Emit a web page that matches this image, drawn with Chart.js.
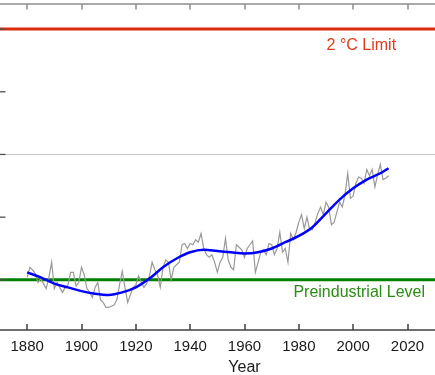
<!DOCTYPE html>
<html><head><meta charset="utf-8">
<style>
html,body{margin:0;padding:0;overflow:hidden;background:#fff;width:435px;height:375px;}
#wrap{position:absolute;left:0;top:0;width:490px;height:375px;}
</style>
<script src="https://cdn.jsdelivr.net/npm/chart.js@4/dist/chart.umd.min.js"></script>
</head><body>
<div id="wrap"><canvas id="c" width="490" height="375"></canvas></div>
<script>
// ---- data (°C relative to preindustrial level) ----
const firstYear = 1880;
const annualAnomaly = [
 0.02,0.10,0.08,0.05,-0.02,0.01,-0.03,-0.07,0.02,0.14,
 -0.07,-0.02,-0.06,-0.10,-0.06,-0.04,0.06,0.06,-0.05,-0.02,
 0.10,0.04,-0.07,-0.10,-0.14,-0.06,-0.02,-0.16,-0.18,-0.22,
 -0.22,-0.21,-0.20,-0.16,-0.04,0.07,-0.06,-0.18,-0.12,-0.06,
 -0.04,0.03,-0.02,-0.06,-0.03,0.03,0.14,0.08,0.04,-0.06,
 0.10,0.16,0.14,0.00,0.10,0.12,0.14,0.28,0.29,0.25,
 0.29,0.28,0.32,0.30,0.37,0.25,0.20,0.18,0.20,0.14,
 0.06,0.14,0.18,0.33,0.16,0.10,0.08,0.28,0.26,0.24,
 0.18,0.25,0.28,0.31,0.06,0.14,0.22,0.24,0.20,0.29,
 0.28,0.20,0.25,0.38,0.22,0.25,0.14,0.37,0.32,0.38,
 0.46,0.52,0.41,0.50,0.40,0.40,0.46,0.53,0.58,0.52,
 0.62,0.58,0.44,0.46,0.54,0.62,0.58,0.68,0.85,0.65,
 0.67,0.77,0.82,0.81,0.77,0.88,0.83,0.88,0.74,0.84,
 0.92,0.80,0.81,0.83
];
const smoothYears  = [1880,1885,1890,1895,1900,1905,1910,1915,1920,1925,1930,1935,1940,1945,1950,1955,1960,1965,1970,1975,1980,1985,1990,1995,2000,2005,2010,2013];
const smoothValues = [0.06,0.02,-0.03,-0.06,-0.09,-0.11,-0.12,-0.10,-0.06,0.01,0.10,0.17,0.22,0.24,0.23,0.22,0.21,0.22,0.25,0.30,0.35,0.42,0.53,0.64,0.73,0.80,0.85,0.89];
const xTicks = [1880,1900,1920,1940,1960,1980,2000,2020];
const yTicks = [0,0.5,1,1.5,2];
const limitLevel = 2;
const preindustrialLevel = 0;
const referenceGrid = 1;
const xMin = 1870, xMax = 2050, yMin = -0.4, yMax = 2.2;
const limitLabel = '2 °C Limit';
const preLabel = 'Preindustrial Level';
const xTitle = 'Year';

const FONT = '"Liberation Sans", Arial, sans-serif';
const annualPts = annualAnomaly.map((v,i)=>({x:firstYear+i,y:v}));
const smoothPts = smoothYears.map((yr,i)=>({x:yr,y:smoothValues[i]}));
const hline = v => [{x:xMin,y:v},{x:xMax,y:v}];

const framePlugin = {
  id:'frame',
  beforeDatasetsDraw(chart){
    const {ctx, chartArea:ca, scales:{y}} = chart;
    ctx.save();
    ctx.strokeStyle = '#c4c4c4'; ctx.lineWidth = 1;
    const gy = Math.round(y.getPixelForValue(referenceGrid)) + 0.5;
    ctx.beginPath(); ctx.moveTo(ca.left, gy); ctx.lineTo(ca.right, gy); ctx.stroke();
    ctx.restore();
  },
  afterDatasetsDraw(chart){
    const {ctx, chartArea:ca, scales:{x,y}} = chart;
    ctx.save();
    ctx.strokeStyle = '#8c8c8c'; ctx.lineWidth = 1.5;
    ctx.beginPath(); ctx.moveTo(ca.left, ca.top); ctx.lineTo(ca.right, ca.top); ctx.stroke();
    xTicks.forEach(t=>{ const px=Math.round(x.getPixelForValue(t));
      ctx.beginPath(); ctx.moveTo(px, ca.top); ctx.lineTo(px, ca.top+5.5); ctx.stroke(); });
    ctx.strokeStyle = '#404040'; ctx.lineWidth = 1.5;
    ctx.beginPath(); ctx.moveTo(ca.left, ca.bottom); ctx.lineTo(ca.right, ca.bottom); ctx.stroke();
    xTicks.forEach(t=>{ const px=Math.round(x.getPixelForValue(t));
      ctx.beginPath(); ctx.moveTo(px, ca.bottom); ctx.lineTo(px, ca.bottom-6); ctx.stroke(); });
    ctx.strokeStyle = '#505050'; ctx.lineWidth = 1.3;
    yTicks.forEach(t=>{ const py=y.getPixelForValue(t);
      ctx.beginPath(); ctx.moveTo(ca.left, py); ctx.lineTo(ca.left+5.5, py); ctx.stroke(); });
    ctx.font = '16px ' + FONT;
    ctx.textBaseline = 'alphabetic';
    ctx.fillStyle = '#e43a1e'; ctx.textAlign = 'center';
    ctx.fillText(limitLabel, x.getPixelForValue(2003), y.getPixelForValue(limitLevel)+21);
    ctx.fillStyle = '#2a8c14'; ctx.textAlign = 'left';
    ctx.fillText(preLabel, x.getPixelForValue(1978), y.getPixelForValue(preindustrialLevel)+17);
    ctx.restore();
  }
};

new Chart(document.getElementById('c'), {
  type:'line',
  data:{ datasets:[
    {data:smoothPts, borderColor:'#0000ff', borderWidth:2.5, pointRadius:0, cubicInterpolationMode:'monotone', order:0},
    {data:annualPts, borderColor:'#999999', borderWidth:1.2, pointRadius:0, tension:0, order:1},
    {data:hline(limitLevel), borderColor:'rgb(218,42,10)', borderWidth:3, pointRadius:0, order:2},
    {data:hline(preindustrialLevel), borderColor:'rgb(0,128,0)', borderWidth:3, pointRadius:0, order:2}
  ]},
  options:{
    responsive:false, animation:false, devicePixelRatio:1,
    layout:{padding:{left:0,right:1,top:4,bottom:-2}},
    plugins:{legend:{display:false}, tooltip:{enabled:false}},
    scales:{
      x:{type:'linear', min:xMin, max:xMax,
        afterBuildTicks: s => { s.ticks = xTicks.map(v=>({value:v})); },
        afterFit: s => { s.height = 47; },
        grid:{display:false, drawTicks:false}, border:{display:false},
        ticks:{font:{family:FONT,size:15}, color:'#1a1a1a', padding:7.5, maxRotation:0, autoSkip:false, callback:v=>String(v)},
        title:{display:true, text:xTitle, font:{family:FONT,size:16}, color:'#1a1a1a', padding:{top:0,bottom:0}}
      },
      y:{type:'linear', min:yMin, max:yMax, display:false}
    }
  },
  plugins:[framePlugin]
});
</script>
</body></html>
